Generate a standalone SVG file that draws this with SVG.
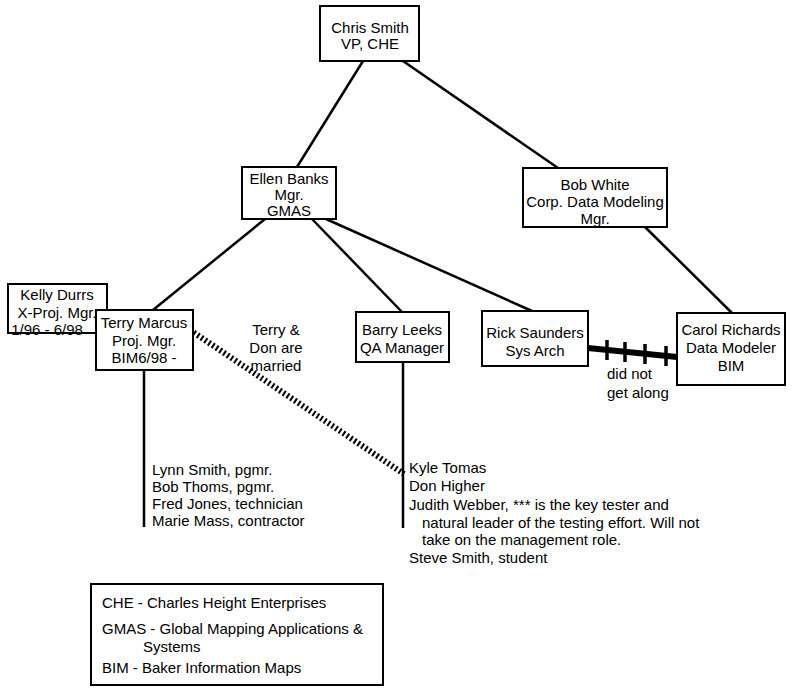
<svg xmlns="http://www.w3.org/2000/svg" width="800" height="689" viewBox="0 0 800 689">
<style>
  .box { fill: #fff; stroke: #000; stroke-width: 2; }
  .t { font-family: "Liberation Sans", Arial, sans-serif; font-size: 15px; fill: #000; }
  .c { text-anchor: middle; }
  .ln { stroke: #000; stroke-width: 2.5; fill: none; }
</style>
<rect width="800" height="689" fill="#fff"/>
<g id="connectors">
  <line class="ln" x1="363" y1="61" x2="297" y2="167"/>
  <line class="ln" x1="403" y1="61" x2="558" y2="168"/>
  <line class="ln" x1="265" y1="219" x2="153" y2="310"/>
  <line class="ln" x1="312" y1="219" x2="402" y2="312"/>
  <line class="ln" x1="326" y1="219" x2="532" y2="311"/>
  <line class="ln" x1="645" y1="227" x2="732" y2="313"/>
  <line class="ln" x1="144" y1="370" x2="144" y2="527"/>
  <line class="ln" x1="403" y1="362" x2="403" y2="528"/>
  <line x1="190" y1="330" x2="404" y2="474" stroke="#000" stroke-width="6" stroke-dasharray="2 2.5"/>
  <g id="conflict">
    <line x1="588" y1="348" x2="677" y2="357" stroke="#000" stroke-width="6"/>
    <line x1="607" y1="340" x2="607" y2="360" stroke="#000" stroke-width="3.5"/>
    <line x1="625" y1="342" x2="625" y2="362" stroke="#000" stroke-width="3.5"/>
    <line x1="645" y1="344" x2="645" y2="364" stroke="#000" stroke-width="3.5"/>
    <line x1="666" y1="346" x2="666" y2="366" stroke="#000" stroke-width="3.5"/>
  </g>
</g>
<g id="chris">
  <rect class="box" x="320" y="6" width="99" height="55"/>
  <text class="t c" x="370" y="33">Chris Smith</text>
  <text class="t c" x="370" y="49">VP, CHE</text>
</g>
<g id="ellen">
  <rect class="box" x="242" y="167" width="94" height="52"/>
  <text class="t c" x="289" y="184">Ellen Banks</text>
  <text class="t c" x="289" y="200">Mgr.</text>
  <text class="t c" x="289" y="216">GMAS</text>
</g>
<g id="bob">
  <rect class="box" x="523" y="168" width="144" height="59"/>
  <text class="t c" x="595" y="190">Bob White</text>
  <text class="t c" x="595" y="207">Corp. Data Modeling</text>
  <text class="t c" x="595" y="224">Mgr.</text>
</g>
<g id="kelly">
  <rect class="box" x="8" y="284" width="99" height="49"/>
  <text class="t c" x="57" y="300">Kelly Durrs</text>
  <text class="t c" x="57" y="318">X-Proj. Mgr.</text>
  <text class="t c" x="47" y="335">1/96 - 6/98</text>
</g>
<g id="terry">
  <rect class="box" x="96" y="310" width="97" height="60"/>
  <text class="t c" x="144" y="328">Terry Marcus</text>
  <text class="t c" x="144" y="346">Proj. Mgr.</text>
  <text class="t c" x="144" y="363">BIM6/98 -</text>
</g>
<g id="note-married">
  <text class="t c" x="276" y="335">Terry &amp;</text>
  <text class="t c" x="276" y="353">Don are</text>
  <text class="t c" x="276" y="371">married</text>
</g>
<g id="barry">
  <rect class="box" x="356" y="312" width="93" height="50"/>
  <text class="t c" x="402" y="335">Barry Leeks</text>
  <text class="t c" x="402" y="353">QA Manager</text>
</g>
<g id="rick">
  <rect class="box" x="482" y="311" width="106" height="55"/>
  <text class="t c" x="535" y="338">Rick Saunders</text>
  <text class="t c" x="535" y="356">Sys Arch</text>
</g>
<g id="carol">
  <rect class="box" x="677" y="313" width="108" height="72"/>
  <text class="t c" x="731" y="335">Carol Richards</text>
  <text class="t c" x="731" y="353">Data Modeler</text>
  <text class="t c" x="731" y="371">BIM</text>
</g>
<g id="note-along">
  <text class="t" x="607" y="379">did not</text>
  <text class="t" x="607" y="398">get along</text>
</g>
<g id="terry-staff">
  <text class="t" x="152" y="475">Lynn Smith, pgmr.</text>
  <text class="t" x="152" y="492">Bob Thoms, pgmr.</text>
  <text class="t" x="152" y="509">Fred Jones, technician</text>
  <text class="t" x="152" y="526">Marie Mass, contractor</text>
</g>
<g id="barry-staff">
  <text class="t" x="409" y="473">Kyle Tomas</text>
  <text class="t" x="409" y="491">Don Higher</text>
  <text class="t" x="409" y="510">Judith Webber, *** is the key tester and</text>
  <text class="t" x="422" y="528">natural leader of the testing effort. Will not</text>
  <text class="t" x="422" y="545">take on the management role.</text>
  <text class="t" x="409" y="563">Steve Smith, student</text>
</g>
<g id="legend">
  <rect class="box" x="91" y="584" width="292" height="101"/>
  <text class="t" x="102" y="608">CHE - Charles Height Enterprises</text>
  <text class="t" x="102" y="634">GMAS - Global Mapping Applications &amp;</text>
  <text class="t" x="143" y="652">Systems</text>
  <text class="t" x="102" y="673">BIM - Baker Information Maps</text>
</g>
</svg>
